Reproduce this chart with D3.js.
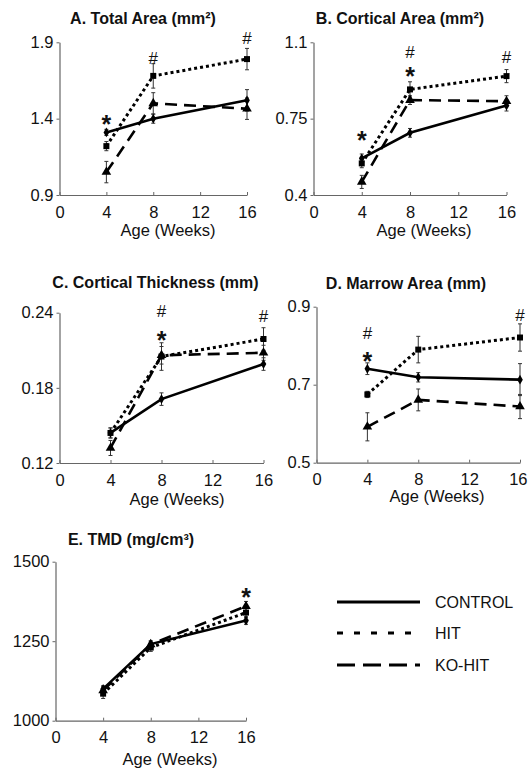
<!DOCTYPE html>
<html>
<head>
<meta charset="utf-8">
<script src="https://cdn.jsdelivr.net/npm/d3@7"></script>
<style>
  body { margin: 0; background: #fff; }
  svg { display: block; font-family: "Liberation Sans", Arial, sans-serif; }
</style>
</head>
<body>
<script>
// Bone geometry over age, three groups (CONTROL, HIT, KO-HIT)

const weeks = [4, 8, 16];
const seriesNames = ["CONTROL", "HIT", "KO-HIT"];
const xTicks = [0, 4, 8, 12, 16];

// each panel: rows are CONTROL, HIT, KO-HIT
const totalArea = [[1.31, 1.40, 1.52], [1.22, 1.68, 1.79], [1.05, 1.50, 1.465]];
const totalAreaErr = [[0.02, 0.03, 0.07], [0.03, 0.08, 0.07], [0.07, 0.07, 0.07]];
const totalAreaTicks = [0.9, 1.4, 1.9];
const totalAreaSig = [[4, "*", 1.40], [8, "#", 1.80], [16, "#", 1.93]];

const corticalArea = [[0.568, 0.685, 0.81], [0.545, 0.884, 0.945], [0.46, 0.835, 0.83]];
const corticalAreaErr = [[0.02, 0.02, 0.025], [0.02, 0.035, 0.03], [0.03, 0.02, 0.025]];
const corticalAreaTicks = [0.4, 0.75, 1.1];
const corticalAreaSig = [[4, "*", 0.675], [8, "#", 1.056], [8, "*", 0.970], [16, "#", 1.033]];

const corticalThickness = [[0.144, 0.171, 0.199], [0.144, 0.205, 0.219], [0.132, 0.206, 0.208]];
const corticalThicknessErr = [[0.004, 0.005, 0.005], [0.004, 0.011, 0.009], [0.006, 0.007, 0.006]];
const corticalThicknessTicks = [0.12, 0.18, 0.24];
const corticalThicknessSig = [[8, "#", 0.241], [8, "*", 0.222], [16, "#", 0.237]];

const marrowArea = [[0.741, 0.719, 0.713], [0.675, 0.79, 0.821], [0.592, 0.661, 0.644]];
const marrowAreaErr = [[0.015, 0.012, 0.041], [0.008, 0.034, 0.035], [0.036, 0.028, 0.031]];
const marrowAreaTicks = [0.5, 0.7, 0.9];
const marrowAreaSig = [[4, "#", 0.832], [4, "*", 0.773], [16, "#", 0.879]];

const tmd = [[1100, 1241, 1315], [1085, 1230, 1340], [1095, 1240, 1360]];
const tmdErr = [[10, 10, 12], [15, 12, 15], [12, 10, 15]];
const tmdTicks = [1000, 1250, 1500];
const tmdSig = [[16, "*", 1406]];

const panels = [
    {title: "A. Total Area (mm²)", values: totalArea, errs: totalAreaErr, ticks: totalAreaTicks, sig: totalAreaSig,
     left: 59.5, right: 247, top: 42.3, bottom: 195, titleX: 143, titleY: 23.5, labelX: 168, labelY: 236},
    {title: "B. Cortical Area (mm²)", values: corticalArea, errs: corticalAreaErr, ticks: corticalAreaTicks, sig: corticalAreaSig,
     left: 313.5, right: 506.5, top: 42.3, bottom: 195, titleX: 400, titleY: 23.5, labelX: 424, labelY: 236},
    {title: "C. Cortical Thickness (mm)", values: corticalThickness, errs: corticalThicknessErr, ticks: corticalThicknessTicks, sig: corticalThicknessSig,
     left: 59.5, right: 263.5, top: 312.7, bottom: 463, titleX: 155.5, titleY: 288, labelX: 177, labelY: 505},
    {title: "D. Marrow Area (mm)", values: marrowArea, errs: marrowAreaErr, ticks: marrowAreaTicks, sig: marrowAreaSig,
     left: 316.5, right: 520, top: 306.7, bottom: 462.7, titleX: 406, titleY: 289, labelX: 437, labelY: 502},
    {title: "E. TMD (mg/cm³)", values: tmd, errs: tmdErr, ticks: tmdTicks, sig: tmdSig,
     left: 55.5, right: 246, top: 561.7, bottom: 720.7, titleX: 131, titleY: 545, labelX: 170, labelY: 765}
];

const dashes = ["none", "3,3", "12,7"];
const symbols = [d3.symbolDiamond, d3.symbolSquare, d3.symbolTriangle];
const symbolSizes = [28, 36, 40];

const svg = d3.select("body").append("svg")
    .attr("width", 528)
    .attr("height", 771);

function drawPanel(p) {
    const x = d3.scaleLinear().domain([0, 16]).range([p.left, p.right]);
    const y = d3.scaleLinear().domain([p.ticks[0], p.ticks[2]]).range([p.bottom, p.top]);
    const g = svg.append("g");

    g.append("text")
        .attr("x", p.titleX).attr("y", p.titleY)
        .attr("text-anchor", "middle")
        .attr("font-size", 16).attr("font-weight", "bold")
        .attr("fill", "#111")
        .text(p.title);

    const xAxis = g.append("g")
        .attr("transform", `translate(0,${p.bottom})`)
        .call(d3.axisBottom(x).tickValues(xTicks).tickSizeInner(-3).tickSizeOuter(0).tickPadding(11));
    const yAxis = g.append("g")
        .attr("transform", `translate(${p.left},0)`)
        .call(d3.axisLeft(y).tickValues(p.ticks).tickSizeInner(3).tickSizeOuter(0).tickPadding(3)
            .tickFormat(d => String(d)));

    [xAxis, yAxis].forEach(a => {
        a.select(".domain").attr("stroke", "#666").attr("stroke-width", 1.2);
        a.selectAll(".tick line").attr("stroke", "#666");
        a.selectAll("text").attr("font-size", 16.5).attr("fill", "#111")
            .attr("font-family", "Liberation Sans, Arial, sans-serif");
    });

    // keep the last week label inside the page
    xAxis.selectAll(".tick text").each(function (d) {
        const w = this.getComputedTextLength();
        const over = x(d) + w / 2 - 527;
        if (over > 0) d3.select(this).attr("dx", -over);
    });

    g.append("text")
        .attr("x", p.labelX).attr("y", p.labelY)
        .attr("text-anchor", "middle")
        .attr("font-size", 16.5).attr("fill", "#111")
        .text("Age (Weeks)");

    // error bars first, lines and markers on top
    p.values.forEach((vals, s) => {
        vals.forEach((v, i) => {
            const e = p.errs[s][i];
            const cx = x(weeks[i]);
            const eg = g.append("g").attr("stroke", "#333").attr("stroke-width", 1);
            eg.append("line").attr("x1", cx).attr("x2", cx).attr("y1", y(v - e)).attr("y2", y(v + e));
            eg.append("line").attr("x1", cx - 2).attr("x2", cx + 2).attr("y1", y(v - e)).attr("y2", y(v - e));
            eg.append("line").attr("x1", cx - 2).attr("x2", cx + 2).attr("y1", y(v + e)).attr("y2", y(v + e));
        });
    });

    const line = d3.line().x((d, i) => x(weeks[i])).y(d => y(d));
    p.values.forEach((vals, s) => {
        g.append("path")
            .datum(vals)
            .attr("fill", "none")
            .attr("stroke", "#000")
            .attr("stroke-width", s === 1 ? 3 : 2.6)
            .attr("stroke-dasharray", dashes[s])
            .attr("d", line);
        g.selectAll(null)
            .data(vals)
            .join("path")
            .attr("transform", (d, i) => `translate(${x(weeks[i])},${y(d)})`)
            .attr("d", d3.symbol().type(symbols[s]).size(symbolSizes[s]))
            .attr("fill", "#000");
    });

    // significance marks: value is the glyph centre
    p.sig.forEach(([wk, sym, v]) => {
        g.append("text")
            .attr("x", x(wk))
            .attr("y", y(v) + (sym === "*" ? 14 : 6))
            .attr("text-anchor", "middle")
            .attr("font-size", sym === "*" ? 25 : 17)
            .attr("font-weight", sym === "*" ? "bold" : "normal")
            .attr("fill", "#111")
            .text(sym);
    });
}

panels.forEach(drawPanel);

// legend
const legendY = [602, 633, 665];
const legendDashes = ["none", "6,11", "18,8"];
const legend = svg.append("g");
seriesNames.forEach((name, i) => {
    legend.append("line")
        .attr("x1", 337).attr("x2", 420)
        .attr("y1", legendY[i]).attr("y2", legendY[i])
        .attr("stroke", "#000").attr("stroke-width", 3)
        .attr("stroke-dasharray", legendDashes[i]);
    legend.append("text")
        .attr("x", 435).attr("y", legendY[i] + 6)
        .attr("font-size", 16).attr("fill", "#111")
        .text(name);
});
</script>
</body>
</html>
